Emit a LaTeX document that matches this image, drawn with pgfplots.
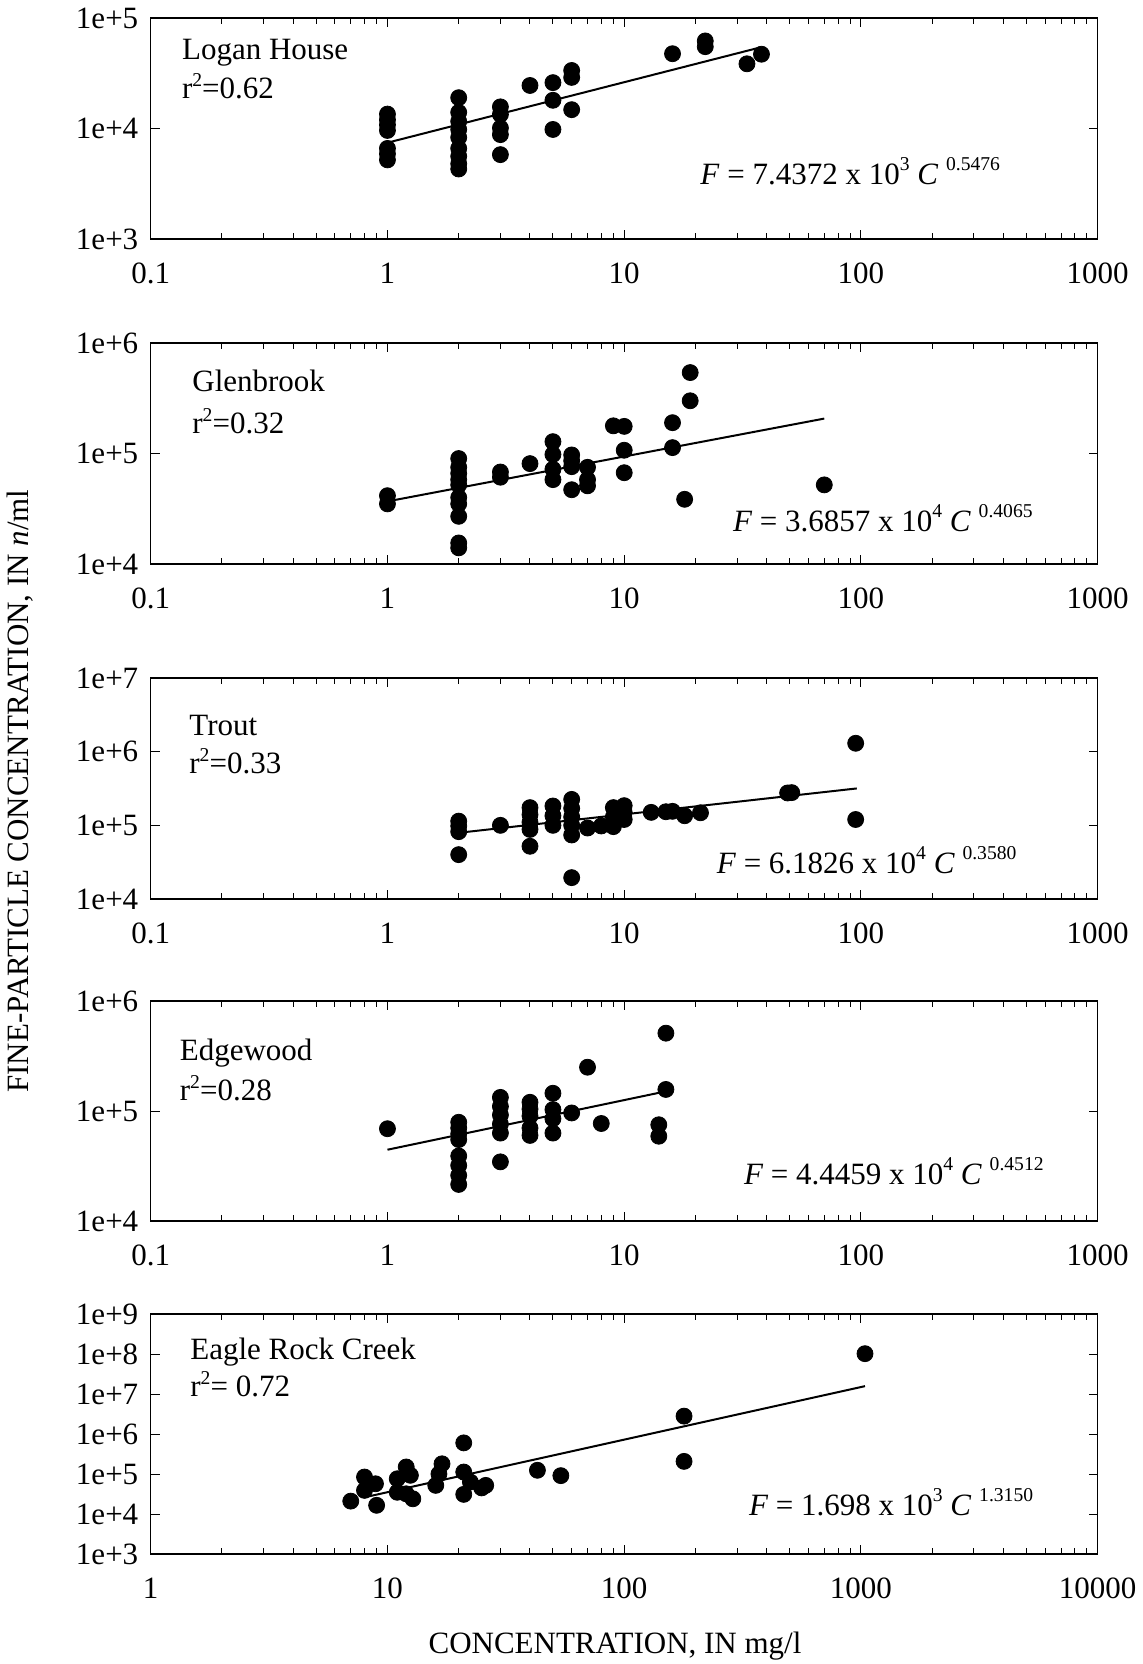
\documentclass[border=0pt]{standalone}
\usepackage{fontspec}
\setmainfont{Liberation Serif}
\usepackage{pgfplots}
\pgfplotsset{compat=1.18}
\newcommand\fs{\fontsize{15.5}{18}\selectfont}
\newcommand\sups[1]{\raisebox{7pt}{\fontsize{9.8}{10}\selectfont #1}}
\newcommand\supr[1]{\raisebox{6pt}{\fontsize{9.8}{10}\selectfont #1}}
\pgfplotsset{
  /pgfplots/myPanel/.style={
    scale only axis, width=473.5pt, anchor=north west,
    yminorticks=false, clip=false,
    major tick length=4.5pt, minor tick length=3pt,
    axis line style={line width=0.7pt},
    every tick/.style={black, line width=0.5pt},
    tick label style={font=\fs},
    xticklabel style={yshift=-8.5pt},
    yticklabel style={xshift=-2.7pt},
  },
  /pgfplots/myXa/.style={xmin=0.1, xmax=1000, xtick={0.1,1,10,100,1000}, xticklabels={0.1,1,10,100,1000}},
}
\tikzset{
  myPts/.style={only marks, mark=*, mark size=4pt, mark options={fill=black, draw=black}},
  myFit/.style={black, line width=1pt},
}
\begin{document}
\begin{tikzpicture}
\path[use as bounding box] (0,0) rectangle (571.5pt,-832pt);
% Panel 1: Logan House
\begin{loglogaxis}[myPanel, myXa, at={(75.35pt,-9pt)}, height=110.5pt,
  ymin=1e3, ymax=1e5, ytick={1e3,1e4,1e5}, yticklabels={1e+3,1e+4,1e+5}]
\addplot[myPts] coordinates {
(1,13500) (1,12000) (1,10800) (1,9600) (1,6600) (1,5900) (1,5200)
(2,19000) (2,14000) (2,11600) (2,9800) (2,8300) (2,6600) (2,5600) (2,4800) (2,4300)
(3,15700) (3,13400) (3,10100) (3,8800) (3,5800)
(4,24500)
(5,26000) (5,18000) (5,9800)
(6,33500) (6,29000) (6,14800)
(16,47500)
(22,62000) (22,55000)
(33,38500)
(38,47000)
};
\addplot[myFit, no marks] coordinates {(1,7437) (38,54500)};
\end{loglogaxis}
% Panel 2: Glenbrook
\begin{loglogaxis}[myPanel, myXa, at={(75.35pt,-171.5pt)}, height=110.5pt,
  ymin=1e4, ymax=1e6, ytick={1e4,1e5,1e6}, yticklabels={1e+4,1e+5,1e+6}]
\addplot[myPts] coordinates {
(1,41500) (1,35000)
(2,90000) (2,75000) (2,66000) (2,58000) (2,52000) (2,40000) (2,35000) (2,27000) (2,15500) (2,14000)
(3,68000) (3,61000)
(4,81000)
(5,128000) (5,98000) (5,72000) (5,58000)
(6,97000) (6,86000) (6,76000) (6,47000)
(7,75000) (7,58000) (7,51000)
(9,178000)
(10,176000) (10,107000) (10,67000)
(16,190000) (16,113000)
(18,38500)
(19,540000) (19,300000)
(70,52000)
};
\addplot[myFit, no marks] coordinates {(1,36857) (70,207000)};
\end{loglogaxis}
% Panel 3: Trout
\begin{loglogaxis}[myPanel, myXa, at={(75.35pt,-339pt)}, height=110.5pt,
  ymin=1e4, ymax=1e7, ytick={1e4,1e5,1e6,1e7}, yticklabels={1e+4,1e+5,1e+6,1e+7}]
\addplot[myPts] coordinates {
(2,114000) (2,98000) (2,82000) (2,40000)
(3,100000)
(4,174000) (4,140000) (4,110000) (4,88000) (4,52000)
(5,183000) (5,135000) (5,100000)
(6,225000) (6,170000) (6,130000) (6,100000) (6,74000) (6,19500)
(7,92000)
(8,98000)
(9,174000) (9,130000) (9,96000)
(10,185000) (10,150000) (10,120000)
(13,150000)
(15,153000)
(16,155000)
(18,135000)
(21,148000)
(49,275000) (51,278000)
(95,1300000) (95,120000)
};
\addplot[myFit, no marks] coordinates {(2,79200) (96,316800)};
\end{loglogaxis}
% Panel 4: Edgewood
\begin{loglogaxis}[myPanel, myXa, at={(75.35pt,-500.5pt)}, height=110pt,
  ymin=1e4, ymax=1e6, ytick={1e4,1e5,1e6}, yticklabels={1e+4,1e+5,1e+6}]
\addplot[myPts] coordinates {
(1,69000)
(2,79000) (2,70000) (2,62000) (2,55000) (2,39000) (2,32000) (2,26000) (2,21500)
(3,133000) (3,110000) (3,92000) (3,76000) (3,63000) (3,34500)
(4,120000) (4,104000) (4,90000) (4,70000) (4,60000)
(5,145000) (5,103000) (5,85000) (5,63000)
(6,96000)
(7,250000)
(8,77000)
(14,75000) (14,59000)
(15,510000) (15,157000)
};
\addplot[myFit, no marks] coordinates {(1,44459) (15,150900)};
\end{loglogaxis}
% Panel 5: Eagle Rock Creek
\begin{loglogaxis}[myPanel, at={(75.35pt,-657pt)}, height=120pt,
  xmin=1, xmax=10000, xtick={1,10,100,1000,10000}, xticklabels={1,10,100,1000,10000},
  ymin=1e3, ymax=1e9, ytick={1e3,1e4,1e5,1e6,1e7,1e8,1e9},
  yticklabels={1e+3,1e+4,1e+5,1e+6,1e+7,1e+8,1e+9}]
\addplot[myPts] coordinates {
(7,21000)
(8,84000) (8,39000)
(8.9,57000) (9,16500)
(11,76000) (11,35000)
(12,150000) (12.5,93000) (12,32000) (12.8,24000)
(16,52000) (17,180000) (16.5,100000)
(21,600000) (21,112000) (21,31000) (22.4,63000)
(25,45000) (26,52000)
(43,124000)
(54,91000)
(179,2800000) (179,207000)
(1040,102000000)
};
\addplot[myFit, no marks] coordinates {(8,26150) (1040,15730000)};
\end{loglogaxis}
% panel texts
\begin{scope}[every node/.style={anchor=base west, font=\fs, inner sep=0pt}]
\node at (90.85pt,-29.65pt) {Logan House};
\node at (90.85pt,-49.15pt) {r\supr{2}=0.62};
\node at (350pt,-92.5pt) {\textit{F} = 7.4372 x 10\sups{3} \textit{C} \sups{0.5476}};
\node at (96pt,-195.85pt) {Glenbrook};
\node at (96pt,-216.5pt) {r\supr{2}=0.32};
\node at (366.3pt,-265.9pt) {\textit{F} = 3.6857 x 10\sups{4} \textit{C} \sups{0.4065}};
\node at (94.5pt,-367.5pt) {Trout};
\node at (94.5pt,-386.5pt) {r\supr{2}=0.33};
\node at (358.2pt,-436.5pt) {\textit{F} = 6.1826 x 10\sups{4} \textit{C} \sups{0.3580}};
\node at (89.75pt,-530pt) {Edgewood};
\node at (89.75pt,-550pt) {r\supr{2}=0.28};
\node at (371.8pt,-592pt) {\textit{F} = 4.4459 x 10\sups{4} \textit{C} \sups{0.4512}};
\node at (95pt,-679.5pt) {Eagle Rock Creek};
\node at (95pt,-698pt) {r\supr{2}= 0.72};
\node at (374.3pt,-757.5pt) {\textit{F} = 1.698 x 10\sups{3} \textit{C} \sups{1.3150}};
\end{scope}
\node[rotate=90, anchor=base, font=\fs, inner sep=0pt] at (14pt,-395.5pt) {FINE-PARTICLE CONCENTRATION, IN \textit{n}/ml};
\node[anchor=base, font=\fs, inner sep=0pt] at (307.5pt,-826.5pt) {CONCENTRATION, IN mg/l};
\end{tikzpicture}
\end{document}
